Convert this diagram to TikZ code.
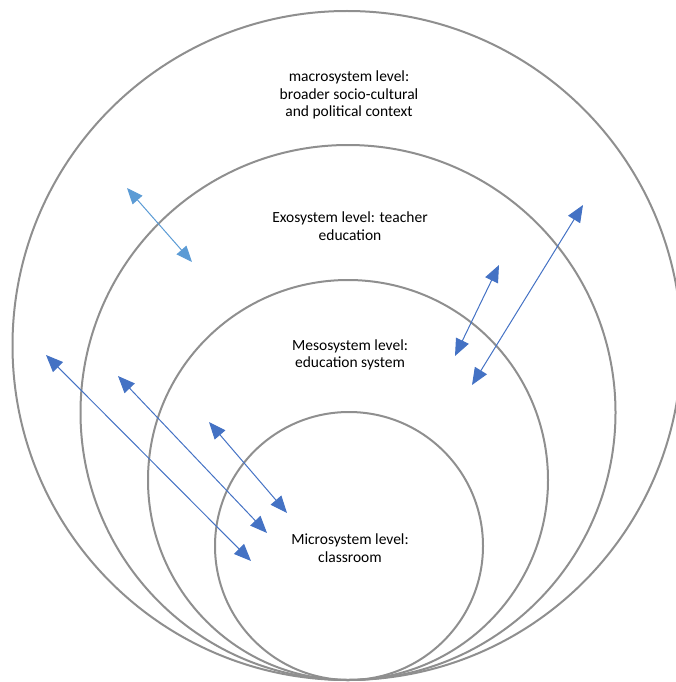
\documentclass[tikz,border=0pt]{standalone}
\usepackage{fontspec}
\setmainfont{Carlito}
\usetikzlibrary{arrows.meta}
\definecolor{ringgray}{HTML}{8F8F8F}
\definecolor{arrblue}{HTML}{4472C4}
\definecolor{arrlight}{HTML}{5B9BD5}
\begin{document}
\begin{tikzpicture}[x=1pt,y=-1pt,
  ring/.style={circle,draw=ringgray,line width=2pt,inner sep=0pt},
  lbl/.style={align=center,font=\fontsize{15.5}{17.5}\selectfont,inner sep=0pt},
  conn/.style={draw=arrblue,line width=1pt,{Triangle[length=17pt,width=14pt]}-{Triangle[length=17pt,width=14pt]}},
  connlight/.style={draw=arrlight,line width=1pt,{Triangle[length=16pt,width=13pt]}-{Triangle[length=16pt,width=13pt]}}]
\useasboundingbox (0,0) rectangle (676,682);
\clip (0,0) rectangle (676,682);
\node[ring,minimum size=669pt] (macro) at (347,345.5) {};
\node[ring,minimum size=535pt] (exo) at (348,412.5) {};
\node[ring,minimum size=400pt] (meso) at (348,480) {};
\node[ring,minimum size=268pt] (micro) at (349,546) {};
\node[lbl] (tmacro) at (349,95) {macrosystem level:\\broader socio-cultural\\and political context};
\node[lbl] (texo) at (350,226) {Exosystem level: teacher\\education};
\node[lbl] (tmeso) at (350,355) {Mesosystem level:\\education system};
\node[lbl] (tmicro) at (350,548) {Microsystem level:\\classroom};
\coordinate (a1s) at (46,355); \coordinate (a1e) at (251,561);
\coordinate (a2s) at (118,376); \coordinate (a2e) at (267,533);
\coordinate (a3s) at (209,422); \coordinate (a3e) at (287,513);
\coordinate (a4s) at (455,356); \coordinate (a4e) at (499,265);
\coordinate (a5s) at (472,385); \coordinate (a5e) at (583,205);
\coordinate (a6s) at (127,188); \coordinate (a6e) at (192,262);
\draw[conn] (a1s) -- (a1e);
\draw[conn] (a2s) -- (a2e);
\draw[conn] (a3s) -- (a3e);
\draw[conn] (a4s) -- (a4e);
\draw[conn] (a5s) -- (a5e);
\draw[connlight] (a6s) -- (a6e);
\end{tikzpicture}
\end{document}
